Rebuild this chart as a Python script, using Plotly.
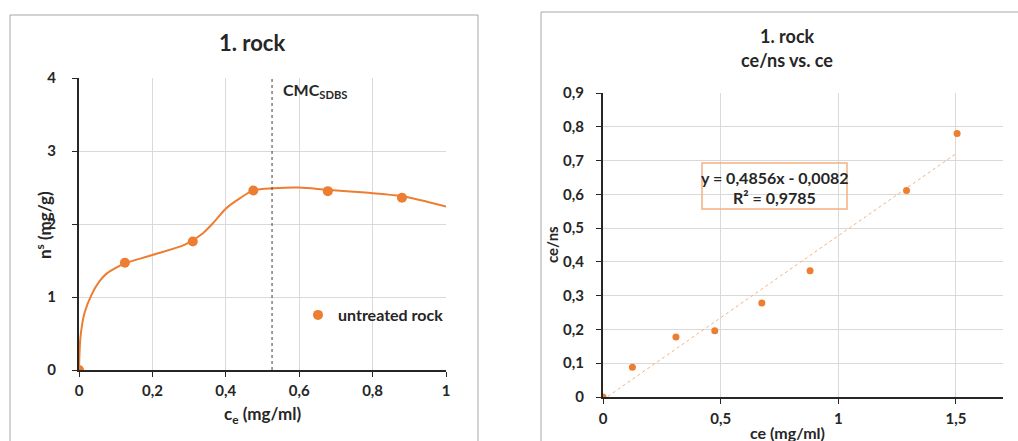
import plotly.graph_objects as go

W, H = 1018, 441

# ---- data ----
# left chart: adsorption isotherm points
ce_pts = [0.0, 0.125, 0.31, 0.475, 0.678, 0.88]
ns_pts = [0.0, 1.47, 1.76, 2.46, 2.45, 2.36]
# smooth guide curve drawn through the isotherm
curve_x = [0.0, 0.004, 0.015, 0.035, 0.055, 0.075, 0.1, 0.125, 0.2, 0.29, 0.337, 0.365,
           0.4, 0.438, 0.475, 0.53, 0.6, 0.675, 0.78, 0.88, 1.0]
curve_y = [0.0, 0.45, 0.78, 1.04, 1.21, 1.32, 1.40, 1.46, 1.575, 1.72, 1.87, 2.01,
           2.21, 2.35, 2.46, 2.49, 2.50, 2.47, 2.43, 2.38, 2.24]
cmc_x = 0.526

left_xticks = [0, 0.2, 0.4, 0.6, 0.8, 1]
left_xlabels = ["0", "0,2", "0,4", "0,6", "0,8", "1"]
left_yticks = [0, 1, 2, 3, 4]

# right chart: linearized form
ce_lin = [0.0, 0.125, 0.31, 0.475, 0.675, 0.88, 1.29, 1.505]
ce_ns = [0.0, 0.088, 0.178, 0.196, 0.278, 0.374, 0.611, 0.780]
slope, intercept, r2 = 0.4856, -0.0082, 0.9785
trend_x = [0.0, 1.505]

right_xticks = [0, 0.5, 1, 1.5]
right_xlabels = ["0", "0,5", "1", "1,5"]
right_yticks = [0, 0.1, 0.2, 0.3, 0.4, 0.5, 0.6, 0.7, 0.8, 0.9]
right_ylabels = ["0", "0,1", "0,2", "0,3", "0,4", "0,5", "0,6", "0,7", "0,8", "0,9"]

ORANGE = "#ED7D31"
FONT = "Lato"
TXT = "#262626"

def px_x(p):
    return p / W

def px_y(p):
    return 1 - p / H

fig = go.Figure()

fig.add_trace(go.Scatter(x=curve_x, y=curve_y, mode="lines",
                         line=dict(color=ORANGE, width=2, shape="spline", smoothing=0.8),
                         showlegend=False, xaxis="x", yaxis="y", hoverinfo="skip"))
fig.add_trace(go.Scatter(x=[cmc_x, cmc_x], y=[0, 4], mode="lines",
                         line=dict(color="#404040", width=1, dash="dot"),
                         showlegend=False, xaxis="x", yaxis="y"))
fig.add_trace(go.Scatter(x=ce_pts, y=ns_pts, mode="markers", name="untreated rock",
                         marker=dict(color=ORANGE, size=10), xaxis="x", yaxis="y"))

ty = [slope * x + intercept for x in trend_x]
fig.add_trace(go.Scatter(x=trend_x, y=ty, mode="lines",
                         line=dict(color="#F4B183", width=1, dash="dot"),
                         showlegend=False, xaxis="x2", yaxis="y2"))
fig.add_trace(go.Scatter(x=ce_lin, y=ce_ns, mode="markers",
                         marker=dict(color=ORANGE, size=7), showlegend=False,
                         xaxis="x2", yaxis="y2"))

axis_common = dict(showline=True, linecolor="#262626", linewidth=2,
                   gridcolor="#D9D9D9", gridwidth=1, zeroline=False,
                   ticks="outside", ticklen=5, tickcolor="#262626", automargin=False,
                   tickfont=dict(family=FONT, size=15, color=TXT, weight="bold"))

fig.update_layout(
    width=W, height=H, margin=dict(l=0, r=0, t=0, b=0, pad=0), autosize=False,
    paper_bgcolor="white", plot_bgcolor="white",
    font=dict(family=FONT, color=TXT),
    xaxis=dict(domain=[px_x(79), px_x(446)], range=[0, 1], anchor="y",
               tickvals=left_xticks, ticktext=left_xlabels, ticklabelstandoff=1,
               **axis_common),
    yaxis=dict(domain=[px_y(370), px_y(78)], range=[0, 4], anchor="x",
               tickvals=left_yticks, ticklabelstandoff=13, **axis_common),
    xaxis2=dict(domain=[px_x(603), px_x(1003)], range=[0, 1.7], anchor="y2",
                tickvals=right_xticks, ticktext=right_xlabels, ticklabelstandoff=2,
                **axis_common),
    yaxis2=dict(domain=[px_y(397), px_y(93)], range=[0, 0.9], anchor="x2",
                tickvals=right_yticks, ticktext=right_ylabels, ticklabelstandoff=9,
                **axis_common),
    legend=dict(x=px_x(298), y=px_y(315), xanchor="left", yanchor="middle",
                bgcolor="rgba(0,0,0,0)",
                font=dict(family=FONT, size=16, color=TXT, weight="bold"),
                itemwidth=30, tracegroupgap=0),
    showlegend=True,
)

shapes = [
    dict(type="rect", xref="paper", yref="paper", x0=px_x(10), x1=px_x(478),
         y0=px_y(445), y1=px_y(15), line=dict(color="#A6A6A6", width=1)),
    dict(type="rect", xref="paper", yref="paper", x0=px_x(541), x1=px_x(1022),
         y0=px_y(445), y1=px_y(12), line=dict(color="#A6A6A6", width=1)),
    dict(type="rect", xref="paper", yref="paper", x0=px_x(702), x1=px_x(847),
         y0=px_y(209), y1=px_y(163), line=dict(color="#F4B183", width=1.5)),
]
fig.update_layout(shapes=shapes)

def ann(text, x, y, size, xanchor="center", yanchor="middle", angle=0):
    fig.add_annotation(text=f"<b>{text}</b>", x=px_x(x), y=px_y(y),
                       xref="paper", yref="paper", showarrow=False,
                       xanchor=xanchor, yanchor=yanchor, textangle=angle,
                       font=dict(family=FONT, size=size, color=TXT))

ann("1. rock", 252, 42, 22)
ann("n<sup>s</sup> (mg/g)", 43, 225, 17, angle=-90)
ann("c<sub>e</sub> (mg/ml)", 262, 415, 17)
ann("CMC<sub>SDBS</sub>", 281, 91, 16, xanchor="left")

ann("1. rock", 787, 36, 18)
ann("ce/ns vs. ce", 787, 60, 18)
ann("ce/ns", 552, 245, 15, angle=-90)
ann("ce (mg/ml)", 787, 432, 16)
ann(f"y = {slope:.4f}x - {abs(intercept):.4f}".replace(".", ","), 774, 177, 16)
ann(f"R² = {r2:.4f}".replace(".", ","), 774, 197, 16)

fig.write_html("out.html", config={"displayModeBar": False},
               post_script="document.body.style.margin='0';"
                           "document.body.style.overflow='hidden';")
